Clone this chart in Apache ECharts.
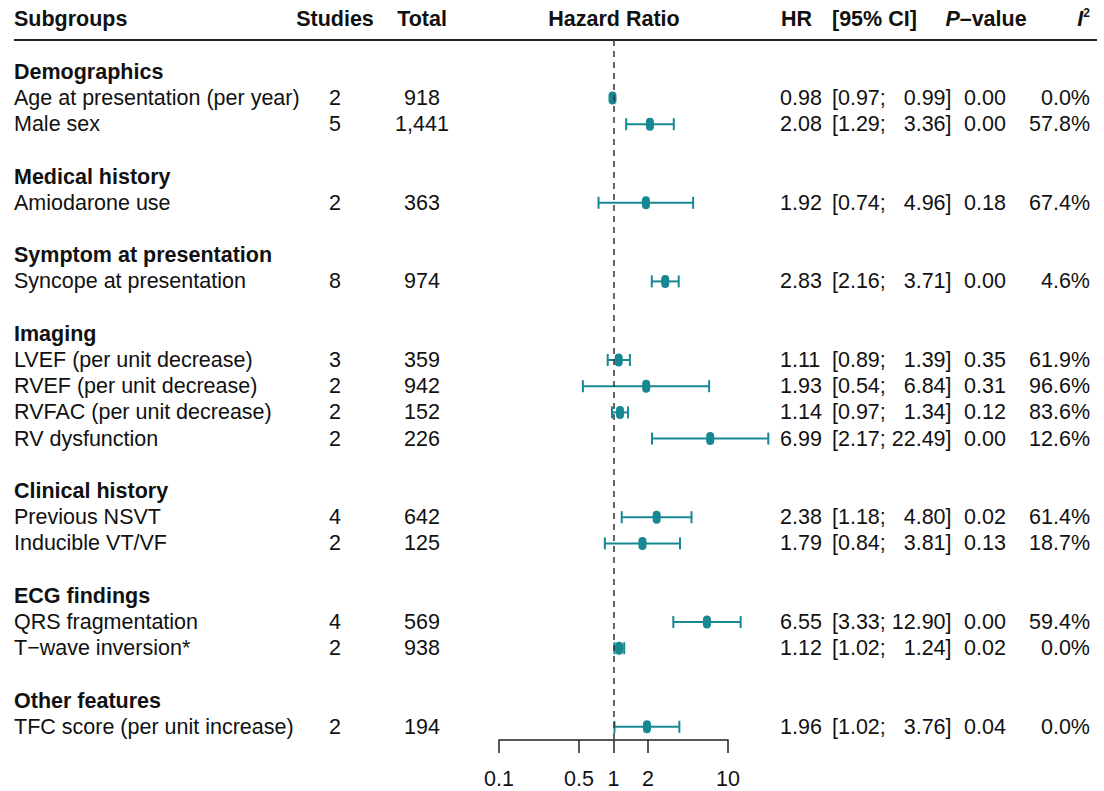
<!DOCTYPE html>
<html>
<head>
<meta charset="utf-8">
<script src="https://cdn.jsdelivr.net/npm/echarts@6/dist/echarts.min.js"></script>
<style>
  html, body { margin: 0; padding: 0; background: #fff; }
  #chart { width: 1104px; height: 791px; }
</style>
</head>
<body>
<div id="chart"></div>
<script>
// ---------------- data ----------------
const rowLabels = [
  'Demographics', 'Age at presentation (per year)', 'Male sex', '',
  'Medical history', 'Amiodarone use', '',
  'Symptom at presentation', 'Syncope at presentation', '',
  'Imaging', 'LVEF (per unit decrease)', 'RVEF (per unit decrease)', 'RVFAC (per unit decrease)', 'RV dysfunction', '',
  'Clinical history', 'Previous NSVT', 'Inducible VT/VF', '',
  'ECG findings', 'QRS fragmentation', 'T\u2212wave inversion*', '',
  'Other features', 'TFC score (per unit increase)'
];
const headingRows = [0, 4, 7, 10, 16, 20, 24];
const studies = [null, 2, 5, null, null, 2, null, null, 8, null, null, 3, 2, 2, 2, null, null, 4, 2, null, null, 4, 2, null, null, 2];
const totals  = [null, '918', '1,441', null, null, '363', null, null, '974', null, null, '359', '942', '152', '226', null, null, '642', '125', null, null, '569', '938', null, null, '194'];
const hr      = [null, 0.98, 2.08, null, null, 1.92, null, null, 2.83, null, null, 1.11, 1.93, 1.14, 6.99, null, null, 2.38, 1.79, null, null, 6.55, 1.12, null, null, 1.96];
const ciLow   = [null, 0.97, 1.29, null, null, 0.74, null, null, 2.16, null, null, 0.89, 0.54, 0.97, 2.17, null, null, 1.18, 0.84, null, null, 3.33, 1.02, null, null, 1.02];
const ciHigh  = [null, 0.99, 3.36, null, null, 4.96, null, null, 3.71, null, null, 1.39, 6.84, 1.34, 22.49, null, null, 4.80, 3.81, null, null, 12.90, 1.24, null, null, 3.76];
const pValues = [null, 0.00, 0.00, null, null, 0.18, null, null, 0.00, null, null, 0.35, 0.31, 0.12, 0.00, null, null, 0.02, 0.13, null, null, 0.00, 0.02, null, null, 0.04];
const i2Values = [null, 0.0, 57.8, null, null, 67.4, null, null, 4.6, null, null, 61.9, 96.6, 83.6, 12.6, null, null, 61.4, 18.7, null, null, 59.4, 0.0, null, null, 0.0];
const tickValues = [0.1, 0.5, 1, 2, 10];

// ---------------- layout / style ----------------
const FONT = '"Liberation Sans", Arial, Helvetica, sans-serif';
const FS = 21.5;
const TEAL = '#178892';
const INK = '#111';
const headerRow = -2;

const hrText = hr.map(v => v == null ? null : v.toFixed(2));
const ciText = ciLow.map((lo, i) => lo == null ? null :
  '[' + lo.toFixed(2) + '; ' + (ciHigh[i] < 10 ? '  ' : '') + ciHigh[i].toFixed(2) + ']');
const pText = pValues.map(v => v == null ? null : v.toFixed(2));
const i2Text = i2Values.map(v => v == null ? null : v.toFixed(1) + '%');
const studiesText = studies.map(v => v == null ? null : String(v));

function textSeries(colX, align, texts, boldRows) {
  const idx = [];
  texts.forEach((t, i) => { if (t != null && t !== '') idx.push(i); });
  return {
    type: 'custom',
    xAxisIndex: 1, yAxisIndex: 1,
    silent: true,
    clip: false,
    data: idx.map(i => [colX, i]),
    renderItem: function (params, api) {
      const row = api.value(1);
      const p = api.coord([api.value(0), row]);
      const bold = boldRows && boldRows.indexOf(row) >= 0;
      return {
        type: 'text',
        x: p[0], y: p[1],
        style: {
          text: texts[row],
          align: align, verticalAlign: 'middle',
          fontFamily: FONT, fontSize: FS,
          fontWeight: bold ? 'bold' : 'normal',
          fill: INK
        }
      };
    }
  };
}

const headers = [
  { x: 14,  align: 'left',   text: 'Subgroups' },
  { x: 335, align: 'center', text: 'Studies' },
  { x: 422, align: 'center', text: 'Total' },
  { x: 614, align: 'center', text: 'Hazard Ratio' },
  { x: 781, align: 'left',   text: 'HR' },
  { x: 832, align: 'left',   text: '[95% CI]' },
  { x: 986, align: 'center', text: '{i|P}\u2013value' },
  { x: 1090, align: 'right', text: '{i|I}{s|2}' }
];

const headerSeries = {
  type: 'custom',
  xAxisIndex: 1, yAxisIndex: 1,
  silent: true, clip: false,
  data: headers.map(h => [h.x, headerRow]),
  renderItem: function (params, api) {
    const h = headers[params.dataIndex];
    const p = api.coord([api.value(0), api.value(1)]);
    return {
      type: 'text', x: p[0], y: p[1],
      style: {
        text: h.text, align: h.align, verticalAlign: 'middle',
        fontFamily: FONT, fontSize: FS, fontWeight: 'bold', fill: INK,
        rich: {
          i: { fontFamily: FONT, fontSize: FS, fontWeight: 'bold', fontStyle: 'italic', fill: INK },
          s: { fontFamily: FONT, fontSize: 12, fontWeight: 'bold', fill: INK, padding: [0, 0, 12, 0] }
        }
      }
    };
  }
};

const forestData = [];
hr.forEach((v, i) => { if (v != null) forestData.push([ciLow[i], ciHigh[i], v, i]); });

const forestSeries = {
  type: 'custom',
  xAxisIndex: 0, yAxisIndex: 0,
  clip: false,
  silent: true,
  encode: { x: [0, 1, 2], y: 3 },
  data: forestData,
  renderItem: function (params, api) {
    const row = api.value(3);
    const a = api.coord([api.value(0), row]);
    const b = api.coord([api.value(1), row]);
    const c = api.coord([api.value(2), row]);
    const capH = 12, lw = 2;
    const st = { stroke: TEAL, lineWidth: lw, fill: null };
    return {
      type: 'group',
      children: [
        { type: 'line', shape: { x1: a[0], y1: a[1], x2: b[0], y2: b[1] }, style: st },
        { type: 'line', shape: { x1: a[0], y1: a[1] - capH / 2, x2: a[0], y2: a[1] + capH / 2 }, style: st },
        { type: 'line', shape: { x1: b[0], y1: b[1] - capH / 2, x2: b[0], y2: b[1] + capH / 2 }, style: st },
        { type: 'rect', shape: { x: c[0] - 4, y: c[1] - 6.5, width: 8, height: 13, r: 4 }, style: { fill: TEAL } }
      ]
    };
  },
  markLine: {
    silent: true,
    symbol: 'none',
    label: { show: false },
    lineStyle: { color: '#333', width: 1.5, type: [6, 5] },
    data: [{ xAxis: 1 }]
  }
};

const option = {
  animation: false,
  backgroundColor: '#fff',
  grid: [
    { left: 499, right: 376, top: 40, bottom: 51 },
    { left: 0, right: 0, top: 0, bottom: 51 }
  ],
  xAxis: [
    {
      gridIndex: 0, type: 'log', logBase: 10, min: 0.1, max: 10, position: 'bottom',
      axisLine: { show: true, onZero: false, lineStyle: { color: '#222', width: 1.5 } },
      axisTick: { show: true, length: 13, lineStyle: { color: '#222', width: 1.5 }, customValues: tickValues },
      axisLabel: { show: true, margin: 28, color: INK, fontFamily: FONT, fontSize: FS, customValues: tickValues,
        formatter: v => String(v) },
      splitLine: { show: false }, minorTick: { show: false }
    },
    {
      gridIndex: 1, type: 'value', min: 0, max: 1104, show: false
    }
  ],
  yAxis: [
    { gridIndex: 0, type: 'value', inverse: true, min: -1.2137, max: 25.504, show: false },
    { gridIndex: 1, type: 'value', inverse: true, min: -2.7405, max: 25.504, show: false }
  ],
  graphic: [
    { type: 'line', shape: { x1: 14, y1: 40, x2: 1097, y2: 40 }, style: { stroke: '#222', lineWidth: 2 }, silent: true }
  ],
  series: [
    forestSeries,
    headerSeries,
    textSeries(14, 'left', rowLabels, headingRows),
    textSeries(335, 'center', studiesText),
    textSeries(422, 'center', totals),
    textSeries(780, 'left', hrText),
    textSeries(832, 'left', ciText),
    textSeries(985, 'center', pText),
    textSeries(1090, 'right', i2Text)
  ]
};

const chart = echarts.init(document.getElementById('chart'), null, { renderer: 'svg' });
chart.setOption(option);
</script>
</body>
</html>
